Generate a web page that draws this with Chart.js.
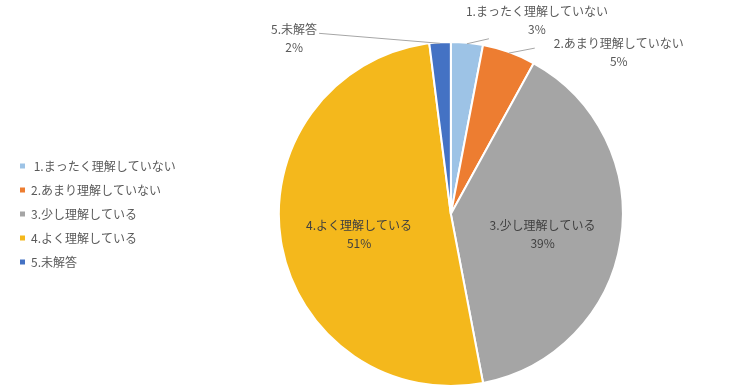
<!DOCTYPE html>
<html>
<head>
<meta charset="utf-8">
<script src="https://cdn.jsdelivr.net/npm/chart.js@4"></script>
<style>
  body { margin: 0; background: #fff; }
  #wrap { width: 750px; height: 390px; }
</style>
</head>
<body>
<div id="wrap"><canvas id="pieChart"></canvas></div>
<script>
const categories = ['1.まったく理解していない', '2.あまり理解していない', '3.少し理解している', '4.よく理解している', '5.未解答'];
const shares = [3, 5, 39, 51, 2];
const percentLabels = ['3%', '5%', '39%', '51%', '2%'];
const sliceColors = ['#9DC3E6', '#ED7D31', '#A5A5A5', '#F4B81C', '#4472C4'];

const fontFamily = '"Noto Sans CJK JP", "Noto Sans", sans-serif';
const textColor = '#595959';

// outside labels: leader line end and text centre, relative to the slice edge point
const outsideLabels = {
  0: { line: [22, -5], text: [70, -32] },
  1: { line: [26, -5], text: [110, -10] },
  4: { line: [-121, -10], text: [-146, -14] }
};

const labelPlugin = {
  id: 'sliceLabels',
  afterDatasetsDraw(chart) {
    const ctx = chart.ctx;
    const meta = chart.getDatasetMeta(0);
    ctx.save();
    ctx.font = '12px ' + fontFamily;
    ctx.textAlign = 'center';
    ctx.textBaseline = 'middle';
    meta.data.forEach((arc, i) => {
      const p = arc.getProps(['x', 'y', 'startAngle', 'endAngle', 'outerRadius'], true);
      const mid = (p.startAngle + p.endAngle) / 2;
      const out = outsideLabels[i];
      if (out) {
        const ex = p.x + Math.cos(mid) * (p.outerRadius - 1);
        const ey = p.y + Math.sin(mid) * (p.outerRadius - 1);
        ctx.strokeStyle = '#A6A6A6';
        ctx.lineWidth = 1;
        ctx.beginPath();
        ctx.moveTo(ex, ey);
        ctx.lineTo(ex + out.line[0], ey + out.line[1]);
        ctx.stroke();
        const tx = ex + out.text[0];
        const ty = ey + out.text[1];
        ctx.fillStyle = textColor;
        ctx.fillText(categories[i], tx, ty);
        ctx.fillText(percentLabels[i], tx, ty + 18);
      } else {
        const r = p.outerRadius * 0.54;
        const tx = p.x + Math.cos(mid) * r;
        const ty = p.y + Math.sin(mid) * r;
        ctx.fillStyle = '#404040';
        ctx.fillText(categories[i], tx, ty - 3);
        ctx.fillText(percentLabels[i], tx, ty + 15);
      }
    });
    ctx.restore();
  }
};

new Chart(document.getElementById('pieChart'), {
  type: 'pie',
  data: {
    labels: categories,
    datasets: [{
      data: shares,
      backgroundColor: sliceColors,
      borderColor: '#ffffff',
      borderWidth: 2
    }]
  },
  options: {
    responsive: true,
    maintainAspectRatio: false,
    animation: false,
    layout: { padding: { left: 8, right: 34, top: 41, bottom: 3 } },
    plugins: {
      tooltip: { enabled: false },
      legend: {
        position: 'left',
        labels: {
          boxWidth: 5,
          boxHeight: 5,
          padding: 12,
          color: textColor,
          font: { family: fontFamily, size: 12 },
          generateLabels(chart) {
            const items = Chart.overrides.pie.plugins.legend.labels.generateLabels(chart);
            items.forEach(item => { item.lineWidth = 0; });
            items[0].text = ' ' + items[0].text;
            return items;
          }
        }
      }
    }
  },
  plugins: [labelPlugin]
});
</script>
</body>
</html>
